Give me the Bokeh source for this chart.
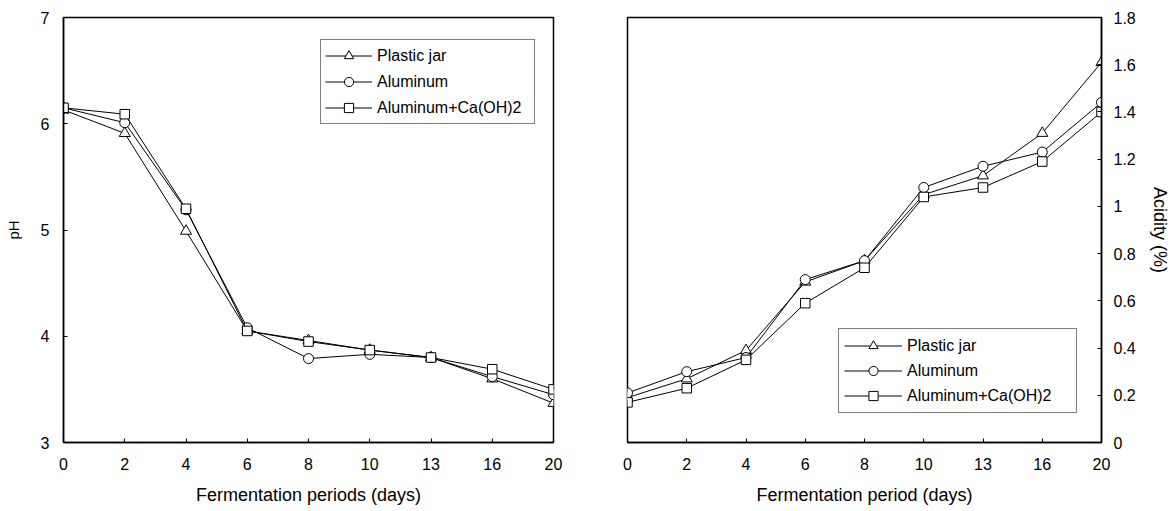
from bokeh.plotting import figure
from bokeh.models import Range1d, FixedTicker, NumeralTickFormatter
from bokeh.layouts import row
from bokeh.embed import file_html
from bokeh.resources import INLINE

# ---- data ----
days = ["0", "2", "4", "6", "8", "10", "13", "16", "20"]
series_names = ["Plastic jar", "Aluminum", "Aluminum+Ca(OH)2"]
series_markers = ["triangle", "circle", "square"]

ph_plastic = [6.13, 5.91, 4.99, 4.05, 3.96, 3.87, 3.80, 3.60, 3.37]
ph_aluminum = [6.15, 6.01, 5.19, 4.08, 3.79, 3.83, 3.80, 3.62, 3.45]
ph_alca = [6.15, 6.09, 5.20, 4.05, 3.95, 3.87, 3.80, 3.69, 3.50]

acid_plastic = [0.19, 0.27, 0.39, 0.68, 0.77, 1.05, 1.13, 1.31, 1.61]
acid_aluminum = [0.21, 0.30, 0.36, 0.69, 0.77, 1.08, 1.17, 1.23, 1.44]
acid_alca = [0.17, 0.23, 0.35, 0.59, 0.74, 1.04, 1.08, 1.19, 1.40]

ph_ticks = [3, 4, 5, 6, 7]
acid_ticks = [0, 0.2, 0.4, 0.6, 0.8, 1.0, 1.2, 1.4, 1.6, 1.8]

FONT = "Liberation Sans"
xs = list(range(len(days)))
marker_sizes = {"triangle": 11, "circle": 10, "square": 9.5}


def style(p):
    p.outline_line_color = "black"
    p.outline_line_width = 1.5
    p.xgrid.visible = False
    p.ygrid.visible = False
    p.background_fill_color = "white"
    p.border_fill_color = "white"
    for ax in p.axis:
        ax.axis_line_color = "black"
        ax.axis_line_width = 1.5
        ax.major_tick_line_color = "black"
        ax.major_tick_in = 4
        ax.major_tick_out = 0
        ax.minor_tick_line_color = None
        ax.major_label_text_font = FONT
        ax.major_label_text_font_size = "16px"
        ax.major_label_text_color = "black"
        ax.axis_label_text_font = FONT
        ax.axis_label_text_font_size = "18px"
        ax.axis_label_text_font_style = "normal"
        ax.axis_label_text_color = "black"
    p.xaxis.ticker = FixedTicker(ticks=xs)
    p.xaxis.major_label_overrides = {i: d for i, d in enumerate(days)}
    p.xaxis.major_label_standoff = 15
    p.xaxis.axis_label_standoff = 12


def add_series(p, values_list):
    for name, mk, vals in zip(series_names, series_markers, values_list):
        p.line(xs, vals, line_color="black", line_width=1, legend_label=name)
        p.scatter(xs, vals, marker=mk, size=marker_sizes[mk], line_color="black",
                  line_width=1, fill_color="white", legend_label=name)


def style_legend(p, loc, padding, glyph_w, standoff, label_w, spacing):
    lg = p.legend[0]
    lg.location = loc
    lg.border_line_color = "black"
    lg.border_line_width = 1.5
    lg.background_fill_color = "white"
    lg.background_fill_alpha = 1
    lg.label_text_font = FONT
    lg.label_text_font_size = "16px"
    lg.label_text_color = "black"
    lg.padding = padding
    lg.margin = 0
    lg.glyph_width = glyph_w
    lg.glyph_height = 23
    lg.label_height = 23
    lg.label_standoff = standoff
    lg.label_width = label_w
    lg.spacing = spacing


# ---- left: pH ----
p1 = figure(frame_width=490, frame_height=425, output_backend="svg", toolbar_location=None,
            x_range=Range1d(0, len(days) - 1), y_range=Range1d(3, 7),
            min_border_left=63, min_border_right=10, min_border_top=17, min_border_bottom=68)
add_series(p1, [ph_plastic, ph_aluminum, ph_alca])
style(p1)
p1.xaxis.axis_label = "Fermentation periods (days)"
p1.yaxis.axis_label = "pH"
p1.yaxis.axis_label_text_font_size = "15px"
p1.yaxis.ticker = FixedTicker(ticks=ph_ticks)
p1.yaxis.major_label_standoff = 14
p1.yaxis.axis_label_standoff = 16
style_legend(p1, (257, 318), 4, 47, 5, 153, 3)

# ---- right: acidity ----
p2 = figure(frame_width=474, frame_height=425, output_backend="svg", toolbar_location=None,
            x_range=Range1d(0, len(days) - 1), y_range=Range1d(0, 1.8),
            y_axis_location="right",
            min_border_left=64, min_border_right=70, min_border_top=17, min_border_bottom=68)
add_series(p2, [acid_plastic, acid_aluminum, acid_alca])
style(p2)
p2.xaxis.axis_label = "Fermentation period (days)"
p2.yaxis.axis_label = "Acidity (%)"
p2.yaxis.ticker = FixedTicker(ticks=acid_ticks)
p2.yaxis.formatter = NumeralTickFormatter(format="0.[0]")
p2.yaxis.major_label_standoff = 12
p2.yaxis.axis_label_standoff = 11
style_legend(p2, (211, 29), 5, 58, 5, 164, 2)

layout = row(p1, p2)
open("out.html", "w").write(file_html(layout, INLINE))
